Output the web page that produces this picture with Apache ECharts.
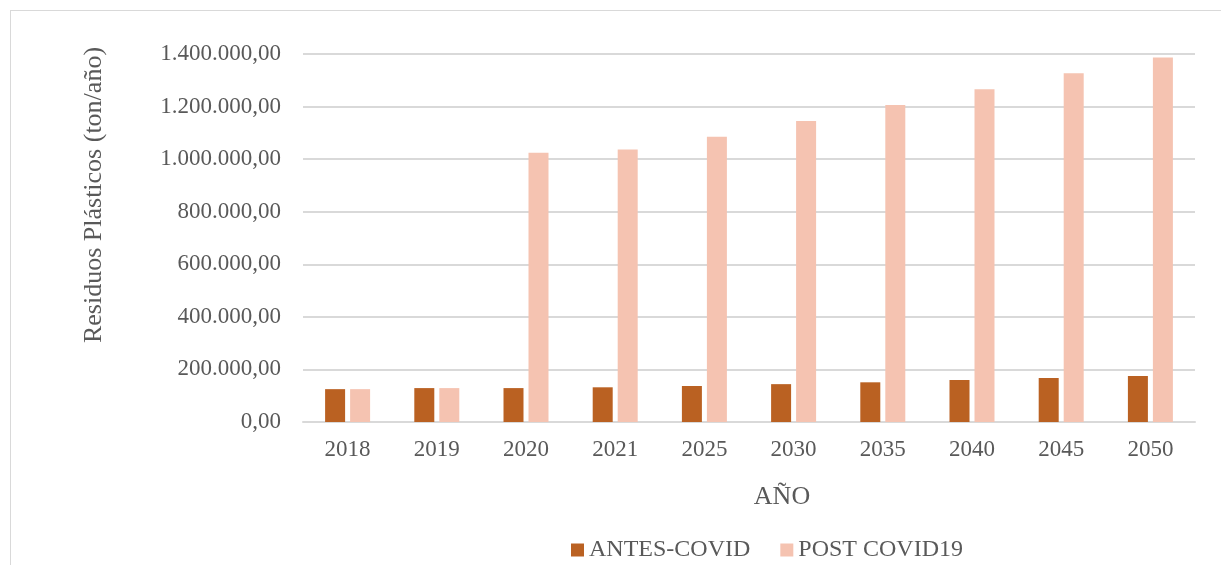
<!DOCTYPE html>
<html>
<head>
<meta charset="utf-8">
<script src="https://cdn.jsdelivr.net/npm/echarts@6/dist/echarts.min.js"></script>
<style>
  html, body { margin: 0; padding: 0; background: #fff; overflow: hidden; }
  #frame { position: absolute; left: 10px; top: 10px; width: 1240px; height: 600px; border: 1px solid #d9d9d9; }
  #main { position: absolute; left: 0; top: 0; width: 1221px; height: 565px; }
</style>
</head>
<body>
<div id="frame"></div>
<div id="main"></div>
<script>
// datos
const years = ['2018', '2019', '2020', '2021', '2025', '2030', '2035', '2040', '2045', '2050'];
const antesCovid = [125000, 129000, 129000, 132000, 137000, 144000, 151000, 160000, 167000, 175000];
const postCovid = [125000, 129000, 1024000, 1037000, 1085000, 1145000, 1206000, 1266000, 1327000, 1387000];

// formato español: 1.400.000,00
const fmt = (v) => {
  const parts = v.toFixed(2).split('.');
  return parts[0].replace(/\B(?=(\d{3})+(?!\d))/g, '.') + ',' + parts[1];
};

const font = 'Liberation Serif';
const txt = '#595959';

const myChart = echarts.init(document.getElementById('main'));
myChart.setOption({
  animation: false,
  grid: { left: 303, right: 26, top: 54, bottom: 143 },
  legend: {
    left: 566, top: 533,
    itemWidth: 13, itemHeight: 13, itemGap: 30,
    icon: 'rect',
    textStyle: { fontFamily: font, fontSize: 24, color: txt }
  },
  xAxis: {
    type: 'category',
    data: years,
    name: 'AÑO',
    nameLocation: 'middle',
    nameGap: 62,
    nameTextStyle: { fontFamily: font, fontSize: 26, color: txt, padding: [0, 0, 0, 66] },
    axisLine: { lineStyle: { color: '#d9d9d9', width: 2 } },
    axisTick: { show: false },
    axisLabel: { fontFamily: font, fontSize: 23, color: txt, margin: 16 }
  },
  yAxis: {
    type: 'value',
    min: 0, max: 1400000, interval: 200000,
    name: 'Residuos Plásticos (ton/año)',
    nameLocation: 'middle',
    nameGap: 196,
    nameTextStyle: { fontFamily: font, fontSize: 26, color: txt, padding: [0, 0, 0, 86] },
    axisLabel: { fontFamily: font, fontSize: 23, color: txt, margin: 22, formatter: fmt },
    splitLine: { lineStyle: { color: '#d9d9d9', width: 2 } }
  },
  series: [
    { name: 'ANTES-COVID', type: 'bar', data: antesCovid, barWidth: 20, barGap: '25%', itemStyle: { color: '#BA6122' } },
    { name: 'POST COVID19', type: 'bar', data: postCovid, barWidth: 20, itemStyle: { color: '#F5C3B1' } }
  ]
});
</script>
</body>
</html>
